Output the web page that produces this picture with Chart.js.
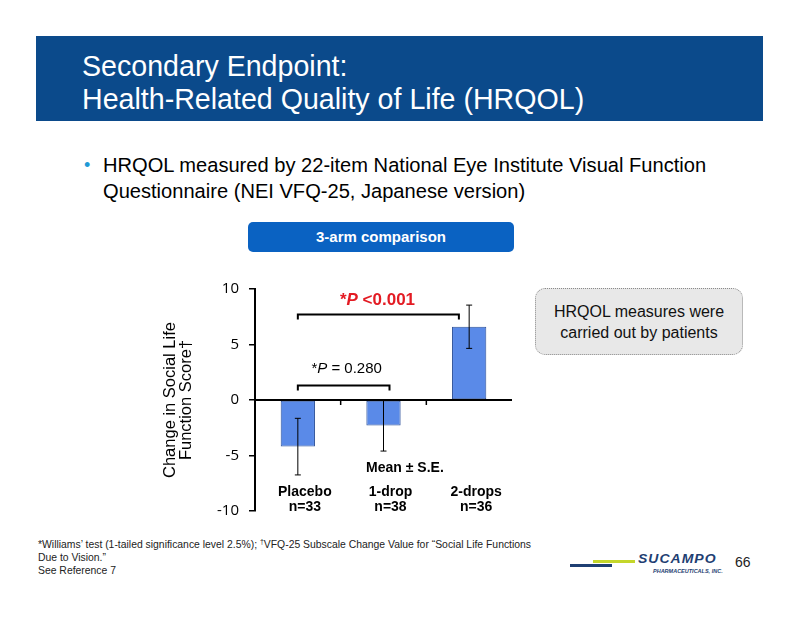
<!DOCTYPE html>
<html>
<head>
<meta charset="utf-8">
<script src="https://cdn.jsdelivr.net/npm/chart.js@4.4.1/dist/chart.umd.min.js"></script>
<style>
  html, body { margin: 0; padding: 0; background: #fff; }
  body { width: 800px; height: 618px; position: relative; overflow: hidden; font-family: "Liberation Sans", Arial, sans-serif; }
  .header { position: absolute; left: 36px; top: 36px; width: 727px; height: 85px; background: #0b4a8b; }
  .header div { position: absolute; left: 46px; color: #fff; font-size: 28.6px; line-height: 33px; white-space: nowrap; }
  .bullet { position: absolute; left: 84px; top: 152px; font-size: 20.1px; line-height: 26px; color: #000; }
  .bullet .dot { position: absolute; left: 0; top: 0; color: #1e9ad6; font-size: 18px; }
  .bullet .txt { position: absolute; left: 19px; top: 0; white-space: nowrap; }
  .btn { position: absolute; left: 248px; top: 222px; width: 266px; height: 30px; background: #0a62c2; border-radius: 5px; color: #fff; font-weight: bold; font-size: 15px; line-height: 30px; text-align: center; }
  .note { position: absolute; left: 535px; top: 288px; width: 208px; height: 67px; background: #e8e8e8; border: 1.5px dotted #8a8a8a; border-radius: 10px; color: #111; font-size: 16px; line-height: 21px; text-align: center; box-sizing: border-box; padding-top: 12px; }
  #chartWrap { position: absolute; left: 150px; top: 270px; width: 380px; height: 260px; }
  .foot { position: absolute; left: 38px; top: 535px; font-size: 10.4px; line-height: 13px; color: #222; white-space: nowrap; }
  .page { position: absolute; left: 735px; top: 554px; font-size: 14px; color: #222; }
  .logo-line1 { position: absolute; left: 570px; top: 564px; width: 42px; height: 3px; background: #1f3f73; }
  .logo-line2 { position: absolute; left: 593px; top: 560px; width: 42px; height: 3px; background: #c4d62a; }
  .logo-txt { position: absolute; left: 638px; top: 552px; font-size: 14px; font-weight: bold; font-style: italic; color: #1f3f73; letter-spacing: 1px; transform: scaleY(0.85); transform-origin: left top; }
  .logo-sub { position: absolute; left: 653px; top: 568px; font-size: 5.5px; font-weight: bold; font-style: italic; color: #1f3f73; }
</style>
</head>
<body>
<div class="header">
  <div style="top:14px;">Secondary Endpoint:</div>
  <div style="top:47px;">Health-Related Quality of Life (HRQOL)</div>
</div>
<div class="bullet">
  <span class="dot">•</span>
  <div class="txt">HRQOL measured by 22-item National Eye Institute Visual Function<br>Questionnaire (NEI VFQ-25, Japanese version)</div>
</div>
<div class="btn">3-arm comparison</div>
<div class="note">HRQOL measures were<br>carried out by patients</div>
<div id="chartWrap"><canvas id="c" width="380" height="260"></canvas></div>
<div class="foot">*Williams’ test (1-tailed significance level 2.5%); <sup style="font-size:7px">†</sup>VFQ-25 Subscale Change Value for “Social Life Functions<br>Due to Vision.”<br>See Reference 7</div>
<div class="logo-line1"></div>
<div class="logo-line2"></div>
<div class="logo-txt">SUCAMPO</div>
<div class="logo-sub">PHARMACEUTICALS, INC.</div>
<div class="page">66</div>
<script>
const categories = [['Placebo', 'n=33'], ['1-drop', 'n=38'], ['2-drops', 'n=36']];
const meanChange = [-4.2, -2.3, 6.6];
const stdError = [2.55, 2.3, 1.95];
const yTicks = [10, 5, 0, -5, -10];
const yTitle = ['Change in Social Life', 'Function Score†'];

// comparison brackets: [from category index, to category index, y level]
const brackets = [
  { from: 0, to: 1.88, y: 7.7, drop: 0.45 },
  { from: 0, to: 1.07, y: 1.3, drop: 0.45 }
];
const annotations = [
  { parts: [['*', 'bold 17px "Liberation Sans"'], ['P', 'bold italic 17px "Liberation Sans"'], [' <0.001', 'bold 17px "Liberation Sans"']], x: 0.93, y: 9.0, color: '#e31b23' },
  { parts: [['*', '15px "Liberation Sans"'], ['P', 'italic 15px "Liberation Sans"'], [' = 0.280', '15px "Liberation Sans"']], x: 0.57, y: 2.8, color: '#000' },
  { parts: [['Mean ± S.E.', 'bold 14px "Liberation Sans"']], x: 1.25, y: -6.1, color: '#000' }
];

const overlay = {
  id: 'overlay',
  afterDatasetsDraw(chart) {
    const ctx = chart.ctx, xs = chart.scales.x, ys = chart.scales.y;
    const area = chart.chartArea;
    ctx.save();
    // zero line
    ctx.strokeStyle = '#000'; ctx.lineWidth = 2;
    const y0 = ys.getPixelForValue(0);
    ctx.beginPath(); ctx.moveTo(area.left, y0); ctx.lineTo(area.right, y0); ctx.stroke();
    // category boundary ticks
    ctx.lineWidth = 1.5;
    for (let i = 0; i < categories.length - 1; i++) {
      const bx = (xs.getPixelForValue(i) + xs.getPixelForValue(i + 1)) / 2;
      ctx.beginPath(); ctx.moveTo(bx, y0); ctx.lineTo(bx, y0 + 5); ctx.stroke();
    }
    // error bars
    ctx.lineWidth = 1;
    meanChange.forEach((m, i) => {
      const px = xs.getPixelForValue(i);
      const top = ys.getPixelForValue(m + stdError[i]);
      const bot = ys.getPixelForValue(m - stdError[i]);
      ctx.beginPath();
      ctx.moveTo(px, top); ctx.lineTo(px, bot);
      ctx.moveTo(px - 3, top); ctx.lineTo(px + 3, top);
      ctx.moveTo(px - 3, bot); ctx.lineTo(px + 3, bot);
      ctx.stroke();
    });
    // brackets
    ctx.lineWidth = 2;
    const interp = v => { const i = Math.floor(v), f = v - i; const a = xs.getPixelForValue(i); const c = xs.getPixelForValue(Math.min(i + 1, categories.length - 1)); return a + (c - a) * f; };
    brackets.forEach(b => {
      const x1 = interp(b.from), x2 = interp(b.to);
      const yy = ys.getPixelForValue(b.y), yd = ys.getPixelForValue(b.y - b.drop);
      ctx.beginPath();
      ctx.moveTo(x1, yd); ctx.lineTo(x1, yy); ctx.lineTo(x2, yy); ctx.lineTo(x2, yd);
      ctx.stroke();
    });
    // annotation texts
    ctx.textBaseline = 'middle';
    annotations.forEach(a => {
      const cx = interp(a.x), cy = ys.getPixelForValue(a.y);
      let w = 0;
      a.parts.forEach(p => { ctx.font = p[1]; w += ctx.measureText(p[0]).width; });
      let x = cx - w / 2;
      ctx.fillStyle = a.color; ctx.textAlign = 'left';
      a.parts.forEach(p => { ctx.font = p[1]; ctx.fillText(p[0], x, cy); x += ctx.measureText(p[0]).width; });
    });
    ctx.restore();
  }
};

new Chart(document.getElementById('c'), {
  type: 'bar',
  data: {
    labels: categories,
    datasets: [{
      data: meanChange,
      backgroundColor: '#5a8ae8',
      borderColor: '#2b4f98',
      borderWidth: 1,
      borderSkipped: false,
      categoryPercentage: 1.0,
      barPercentage: 0.4
    }]
  },
  options: {
    responsive: false,
    animation: false,
    events: [],
    layout: { padding: { left: 0, right: 18, top: 11, bottom: 16 } },
    plugins: { legend: { display: false }, tooltip: { enabled: false } },
    scales: {
      x: {
        position: { y: -7.6 },
        grid: { display: false, drawTicks: false },
        border: { display: false },
        ticks: { padding: 0, labelOffset: 7, color: '#000', font: { family: 'Liberation Sans', size: 14, weight: 'bold', lineHeight: 1.1 } }
      },
      y: {
        min: -10, max: 10,
        afterFit(scale) { scale.width = 105; },
        afterBuildTicks(scale) { scale.ticks = yTicks.map(v => ({ value: v })); },
        grid: { drawOnChartArea: false, drawTicks: true, tickLength: 6, tickColor: '#000', lineWidth: 1.5 },
        border: { display: true, color: '#000', width: 2 },
        ticks: { padding: 10, color: '#000', font: { family: 'Open Sans', size: 15 } },
        title: { display: true, text: yTitle, color: '#000', padding: { top: 12, bottom: 0 }, font: { family: 'Liberation Sans', size: 16.5, lineHeight: 1.0 } }
      }
    }
  },
  plugins: [overlay]
});
</script>
</body>
</html>
